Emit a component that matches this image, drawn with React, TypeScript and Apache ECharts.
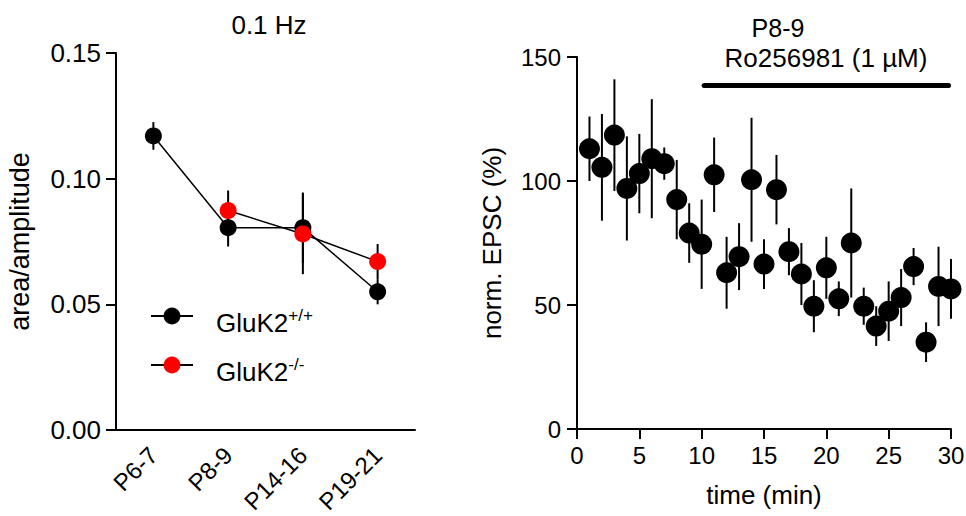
import React, { useEffect, useRef } from "react";
import * as echarts from "echarts";

const FONT = "'Liberation Sans', Arial, sans-serif";

// Left panel data
const ages = ["P6-7", "P8-9", "P14-16", "P19-21"];
const wtMean = [0.117, 0.0805, 0.0805, 0.055];
const wtErr = [0.0055, 0.0075, 0.014, 0.005];
const koMean: (number | null)[] = [null, 0.0873, 0.078, 0.067];
const koErr: (number | null)[] = [null, 0.008, 0.016, 0.007];
const leftTicks = [0, 0.05, 0.1, 0.15];

// Right panel data
const timeMin = [
  1, 2, 3, 4, 5, 6, 7, 8, 9, 10, 11, 12, 13, 14, 15, 16, 17, 18, 19, 20, 21, 22,
  23, 24, 25, 26, 27, 28, 29, 30,
];
const epscMean = [
  113, 105.5, 118.5, 97, 103, 109, 107, 92.5, 79, 74.5, 102.5, 63, 69.5, 100.5,
  66.5, 96.5, 71.5, 62.5, 49.5, 65, 52.5, 75, 49.5, 41.5, 47.5, 53, 65.5, 35,
  57.5, 56.5,
];
const epscErr = [
  13, 21.5, 22.5, 21, 16, 24, 6.5, 16, 12, 18, 15, 14.5, 13.5, 25, 10, 14, 9.5,
  12.5, 10.5, 12.5, 7, 22, 7.5, 8, 12, 11.5, 7.5, 8, 16, 12,
];
const drugStart = 10.2;
const drugEnd = 29.8;
const drugLevel = 138.5;

const errRender = (lw: number) => (params: any, api: any) => {
  const x = api.value(0);
  const m = api.value(1);
  const e = api.value(2);
  const a = api.coord([x, m + e]);
  const b = api.coord([x, m - e]);
  return {
    type: "line",
    shape: { x1: a[0], y1: a[1], x2: b[0], y2: b[1] },
    style: { stroke: "#000", lineWidth: lw },
  };
};

export default function App() {
  const ref = useRef<HTMLDivElement>(null);
  useEffect(() => {
    if (!ref.current) return;
    const chart = echarts.init(ref.current, undefined, { renderer: "svg" });
    const axisLine = { show: true, lineStyle: { color: "#000", width: 2 } };
    const axisTick = { show: true, length: 10, lineStyle: { color: "#000", width: 2 } };
    const lbl = { color: "#000", fontSize: 26, fontFamily: FONT };

    const wtErrData = ages.map((_, i) => [i, wtMean[i], wtErr[i]]);
    const koErrData = ages
      .map((_, i) => [i, koMean[i], koErr[i]])
      .filter((d) => d[1] !== null);
    const koLine = ages
      .map((_, i) => [i, koMean[i]])
      .filter((d) => d[1] !== null);

    chart.setOption({
      animation: false,
      grid: [
        { left: 116, top: 53, width: 299, height: 377, containLabel: false, outerBoundsMode: "none" },
        { left: 577, top: 57, width: 374, height: 372, containLabel: false, outerBoundsMode: "none" },
      ],
      xAxis: [
        {
          type: "category",
          gridIndex: 0,
          data: ages,
          boundaryGap: true,
          axisLine,
          axisTick: { show: false },
          axisLabel: { ...lbl, fontSize: 24, rotate: 45, margin: 21, interval: 0 },
        },
        {
          type: "value",
          gridIndex: 1,
          min: 0,
          max: 30,
          interval: 5,
          axisLine,
          axisTick,
          splitLine: { show: false },
          axisLabel: { ...lbl, fontSize: 24, margin: 14 },
          name: "time (min)",
          nameLocation: "middle",
          nameGap: 53,
          nameTextStyle: { ...lbl },
        },
      ],
      yAxis: [
        {
          type: "value",
          gridIndex: 0,
          min: 0,
          max: 0.15,
          interval: 0.05,
          axisLine,
          axisTick,
          splitLine: { show: false },
          axisLabel: {
            ...lbl,
            margin: 15,
            formatter: (v: number) => {
              const t = leftTicks.find((x) => Math.abs(x - v) < 1e-9);
              return (t ?? v).toFixed(2);
            },
          },
          name: "area/amplitude",
          nameLocation: "middle",
          nameGap: 83,
          nameTextStyle: { ...lbl, fontSize: 27 },
        },
        {
          type: "value",
          gridIndex: 1,
          min: 0,
          max: 150,
          interval: 50,
          axisLine,
          axisTick,
          splitLine: { show: false },
          axisLabel: { ...lbl, fontSize: 24, margin: 16 },
          name: "norm. EPSC (%)",
          nameLocation: "middle",
          nameGap: 72,
          nameTextStyle: { ...lbl },
        },
      ],
      legend: {
        orient: "vertical",
        left: 145,
        top: 302,
        itemWidth: 42,
        itemHeight: 21,
        itemGap: 20,
        data: ["GluK2+/+", "GluK2-/-"],
        selectedMode: false,
        formatter: (name: string) =>
          "{b|GluK2}{s|" + name.replace("GluK2", "") + "}",
        textStyle: {
          padding: [14, 0, 0, 0],
          rich: {
            b: { fontSize: 26, fontFamily: FONT, color: "#000", padding: [0, 0, 0, 18], lineHeight: 32 },
            s: { fontSize: 17, fontFamily: FONT, color: "#000", verticalAlign: "top", lineHeight: 17 },
          },
        },
      },
      graphic: [
        {
          type: "text",
          x: 269,
          y: 25,
          style: { text: "0.1 Hz", font: `26px ${FONT}`, fill: "#000", align: "center", verticalAlign: "middle" },
        },
        {
          type: "text",
          x: 778,
          y: 28,
          style: { text: "P8-9", font: `25px ${FONT}`, fill: "#000", align: "center", verticalAlign: "middle" },
        },
        {
          type: "text",
          x: 826,
          y: 58,
          style: { text: "Ro256981 (1 µM)", font: `26px ${FONT}`, fill: "#000", align: "center", verticalAlign: "middle" },
        },
      ],
      series: [
        {
          type: "custom",
          xAxisIndex: 0,
          yAxisIndex: 0,
          renderItem: errRender(2),
          data: wtErrData,
          z: 1,
        },
        {
          type: "custom",
          xAxisIndex: 0,
          yAxisIndex: 0,
          renderItem: errRender(2),
          data: koErrData,
          z: 1,
        },
        {
          name: "GluK2+/+",
          type: "line",
          xAxisIndex: 0,
          yAxisIndex: 0,
          data: wtMean.map((v, i) => [i, v]),
          symbol: "circle",
          symbolSize: 17,
          itemStyle: { color: "#000" },
          lineStyle: { color: "#000", width: 1.5 },
          z: 2,
        },
        {
          name: "GluK2-/-",
          type: "line",
          xAxisIndex: 0,
          yAxisIndex: 0,
          data: koLine,
          symbol: "circle",
          symbolSize: 17,
          itemStyle: { color: "#ff0000" },
          lineStyle: { color: "#000", width: 1.5 },
          z: 3,
        },
        {
          type: "custom",
          xAxisIndex: 1,
          yAxisIndex: 1,
          renderItem: errRender(2),
          data: timeMin.map((t, i) => [t, epscMean[i], epscErr[i]]),
          z: 1,
        },
        {
          type: "scatter",
          xAxisIndex: 1,
          yAxisIndex: 1,
          data: timeMin.map((t, i) => [t, epscMean[i]]),
          symbol: "circle",
          symbolSize: 21,
          itemStyle: { color: "#000", opacity: 1 },
          z: 2,
        },
        {
          type: "line",
          xAxisIndex: 1,
          yAxisIndex: 1,
          data: [
            [drugStart, drugLevel],
            [drugEnd, drugLevel],
          ],
          symbol: "none",
          lineStyle: { color: "#000", width: 5, cap: "round" },
          z: 3,
        },
      ],
    });
    return () => chart.dispose();
  }, []);
  return (
    <div
      ref={ref}
      style={{ position: "absolute", left: 0, top: 0, width: 966, height: 516, background: "#fff" }}
    />
  );
}
